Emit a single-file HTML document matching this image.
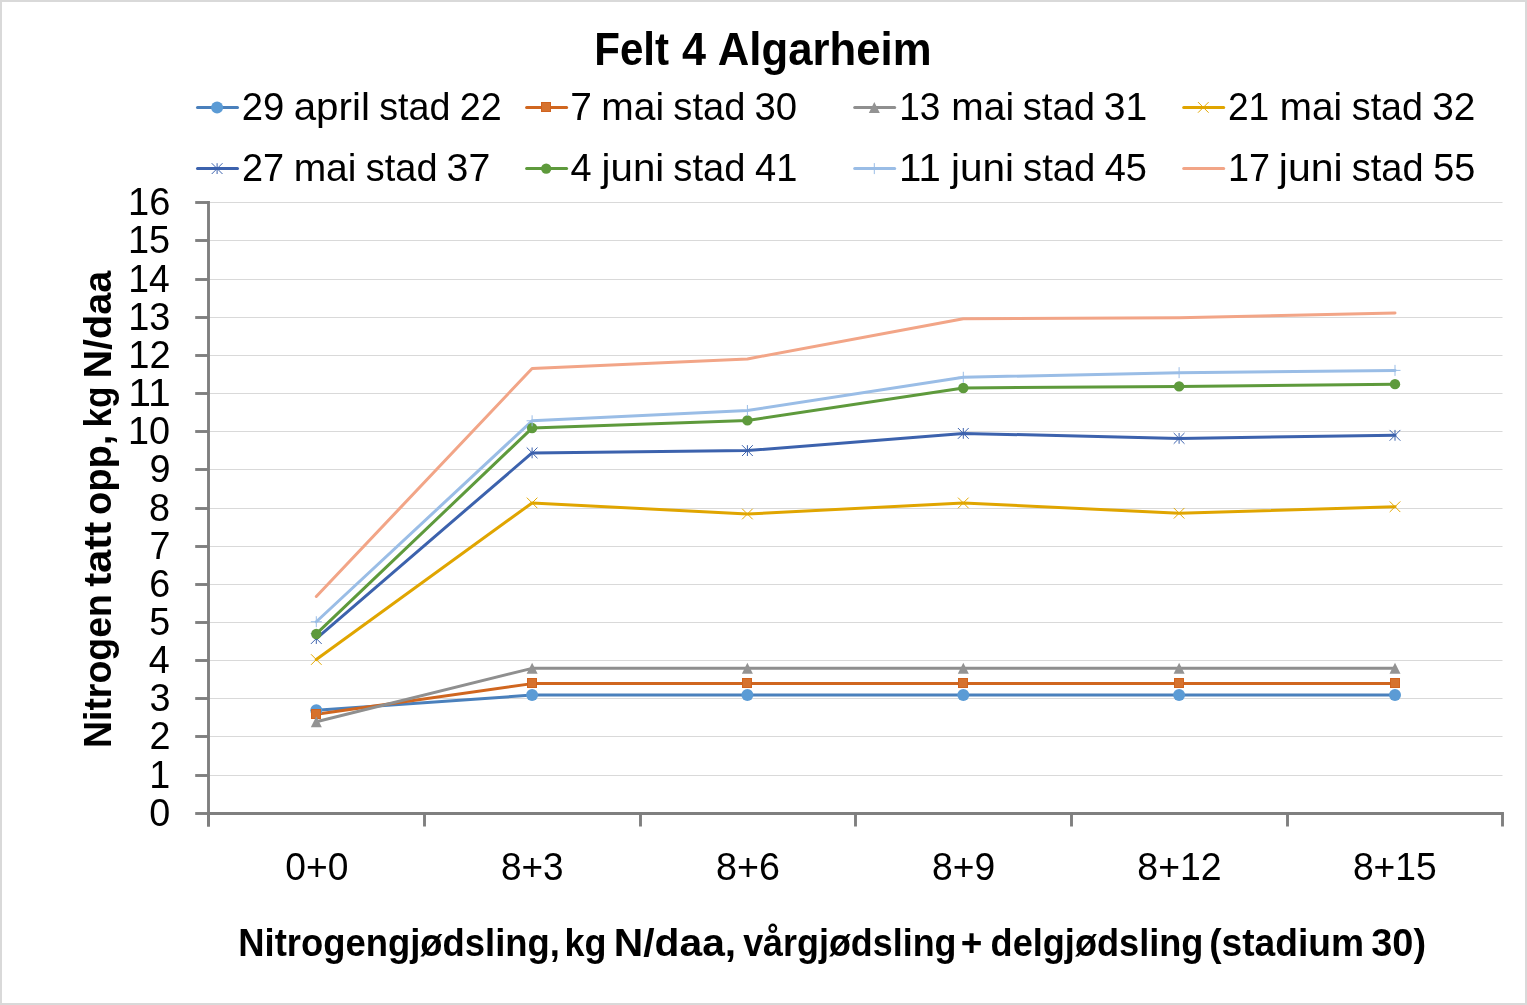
<!DOCTYPE html>
<html><head><meta charset="utf-8"><style>
html,body{margin:0;padding:0;background:#fff;width:1527px;height:1005px;overflow:hidden}
svg{display:block;will-change:transform}
text{font-family:"Liberation Sans",sans-serif}
</style></head><body>
<svg width="1527" height="1005" viewBox="0 0 1527 1005">
<rect x="1" y="1" width="1525" height="1003" fill="none" stroke="#d9d9d9" stroke-width="2"/>
<line x1="208.5" y1="775.50" x2="1502.5" y2="775.50" stroke="#d9d9d9" stroke-width="1.1"/>
<line x1="208.5" y1="736.50" x2="1502.5" y2="736.50" stroke="#d9d9d9" stroke-width="1.1"/>
<line x1="208.5" y1="698.50" x2="1502.5" y2="698.50" stroke="#d9d9d9" stroke-width="1.1"/>
<line x1="208.5" y1="660.50" x2="1502.5" y2="660.50" stroke="#d9d9d9" stroke-width="1.1"/>
<line x1="208.5" y1="622.50" x2="1502.5" y2="622.50" stroke="#d9d9d9" stroke-width="1.1"/>
<line x1="208.5" y1="584.50" x2="1502.5" y2="584.50" stroke="#d9d9d9" stroke-width="1.1"/>
<line x1="208.5" y1="546.50" x2="1502.5" y2="546.50" stroke="#d9d9d9" stroke-width="1.1"/>
<line x1="208.5" y1="508.50" x2="1502.5" y2="508.50" stroke="#d9d9d9" stroke-width="1.1"/>
<line x1="208.5" y1="469.50" x2="1502.5" y2="469.50" stroke="#d9d9d9" stroke-width="1.1"/>
<line x1="208.5" y1="431.50" x2="1502.5" y2="431.50" stroke="#d9d9d9" stroke-width="1.1"/>
<line x1="208.5" y1="393.50" x2="1502.5" y2="393.50" stroke="#d9d9d9" stroke-width="1.1"/>
<line x1="208.5" y1="355.50" x2="1502.5" y2="355.50" stroke="#d9d9d9" stroke-width="1.1"/>
<line x1="208.5" y1="317.50" x2="1502.5" y2="317.50" stroke="#d9d9d9" stroke-width="1.1"/>
<line x1="208.5" y1="279.50" x2="1502.5" y2="279.50" stroke="#d9d9d9" stroke-width="1.1"/>
<line x1="208.5" y1="240.50" x2="1502.5" y2="240.50" stroke="#d9d9d9" stroke-width="1.1"/>
<line x1="208.5" y1="202.50" x2="1502.5" y2="202.50" stroke="#d9d9d9" stroke-width="1.1"/>
<line x1="208.5" y1="201.05" x2="208.5" y2="826.6" stroke="#7f7f7f" stroke-width="2.9"/>
<line x1="195.2" y1="813.50" x2="208.5" y2="813.50" stroke="#7f7f7f" stroke-width="2.9"/>
<line x1="195.2" y1="775.50" x2="208.5" y2="775.50" stroke="#7f7f7f" stroke-width="2.9"/>
<line x1="195.2" y1="736.50" x2="208.5" y2="736.50" stroke="#7f7f7f" stroke-width="2.9"/>
<line x1="195.2" y1="698.50" x2="208.5" y2="698.50" stroke="#7f7f7f" stroke-width="2.9"/>
<line x1="195.2" y1="660.50" x2="208.5" y2="660.50" stroke="#7f7f7f" stroke-width="2.9"/>
<line x1="195.2" y1="622.50" x2="208.5" y2="622.50" stroke="#7f7f7f" stroke-width="2.9"/>
<line x1="195.2" y1="584.50" x2="208.5" y2="584.50" stroke="#7f7f7f" stroke-width="2.9"/>
<line x1="195.2" y1="546.50" x2="208.5" y2="546.50" stroke="#7f7f7f" stroke-width="2.9"/>
<line x1="195.2" y1="508.50" x2="208.5" y2="508.50" stroke="#7f7f7f" stroke-width="2.9"/>
<line x1="195.2" y1="469.50" x2="208.5" y2="469.50" stroke="#7f7f7f" stroke-width="2.9"/>
<line x1="195.2" y1="431.50" x2="208.5" y2="431.50" stroke="#7f7f7f" stroke-width="2.9"/>
<line x1="195.2" y1="393.50" x2="208.5" y2="393.50" stroke="#7f7f7f" stroke-width="2.9"/>
<line x1="195.2" y1="355.50" x2="208.5" y2="355.50" stroke="#7f7f7f" stroke-width="2.9"/>
<line x1="195.2" y1="317.50" x2="208.5" y2="317.50" stroke="#7f7f7f" stroke-width="2.9"/>
<line x1="195.2" y1="279.50" x2="208.5" y2="279.50" stroke="#7f7f7f" stroke-width="2.9"/>
<line x1="195.2" y1="240.50" x2="208.5" y2="240.50" stroke="#7f7f7f" stroke-width="2.9"/>
<line x1="195.2" y1="202.50" x2="208.5" y2="202.50" stroke="#7f7f7f" stroke-width="2.9"/>
<line x1="208.5" y1="813.5" x2="1503.95" y2="813.5" stroke="#7f7f7f" stroke-width="2.9"/>
<line x1="208.50" y1="813.5" x2="208.50" y2="826.5" stroke="#7f7f7f" stroke-width="2.9"/>
<line x1="424.50" y1="813.5" x2="424.50" y2="826.5" stroke="#7f7f7f" stroke-width="2.9"/>
<line x1="640.50" y1="813.5" x2="640.50" y2="826.5" stroke="#7f7f7f" stroke-width="2.9"/>
<line x1="855.50" y1="813.5" x2="855.50" y2="826.5" stroke="#7f7f7f" stroke-width="2.9"/>
<line x1="1071.50" y1="813.5" x2="1071.50" y2="826.5" stroke="#7f7f7f" stroke-width="2.9"/>
<line x1="1287.50" y1="813.5" x2="1287.50" y2="826.5" stroke="#7f7f7f" stroke-width="2.9"/>
<line x1="1502.50" y1="813.5" x2="1502.50" y2="826.5" stroke="#7f7f7f" stroke-width="2.9"/>
<polyline points="316.30,710.36 532.10,695.08 747.40,695.08 963.30,695.08 1179.10,695.08 1395.00,695.08" fill="none" stroke="#4a80bc" stroke-width="3" stroke-linejoin="round" stroke-linecap="round"/>
<polyline points="316.30,714.18 532.10,683.62 747.40,683.62 963.30,683.62 1179.10,683.62 1395.00,683.62" fill="none" stroke="#d0661f" stroke-width="3" stroke-linejoin="round" stroke-linecap="round"/>
<polyline points="316.30,721.82 532.10,668.34 747.40,668.34 963.30,668.34 1179.10,668.34 1395.00,668.34" fill="none" stroke="#8f8f8f" stroke-width="3" stroke-linejoin="round" stroke-linecap="round"/>
<polyline points="316.30,659.55 532.10,502.93 747.40,514.01 963.30,502.93 1179.10,513.25 1395.00,506.75" fill="none" stroke="#e0a500" stroke-width="3" stroke-linejoin="round" stroke-linecap="round"/>
<polyline points="316.30,638.54 532.10,452.89 747.40,450.60 963.30,433.41 1179.10,438.38 1395.00,435.32" fill="none" stroke="#3c62ad" stroke-width="3" stroke-linejoin="round" stroke-linecap="round"/>
<polyline points="316.30,633.96 532.10,428.06 747.40,420.42 963.30,387.95 1179.10,386.42 1395.00,384.13" fill="none" stroke="#5e9a3c" stroke-width="3" stroke-linejoin="round" stroke-linecap="round"/>
<polyline points="316.30,621.74 532.10,420.80 747.40,410.49 963.30,377.26 1179.10,372.67 1395.00,370.38" fill="none" stroke="#9abde6" stroke-width="3" stroke-linejoin="round" stroke-linecap="round"/>
<polyline points="316.30,596.52 532.10,368.47 747.40,358.92 963.30,318.81 1179.10,317.66 1395.00,313.08" fill="none" stroke="#f2a587" stroke-width="3" stroke-linejoin="round" stroke-linecap="round"/>
<circle cx="316.30" cy="710.36" r="6" fill="#5b9bd5"/>
<circle cx="532.10" cy="695.08" r="6" fill="#5b9bd5"/>
<circle cx="747.40" cy="695.08" r="6" fill="#5b9bd5"/>
<circle cx="963.30" cy="695.08" r="6" fill="#5b9bd5"/>
<circle cx="1179.10" cy="695.08" r="6" fill="#5b9bd5"/>
<circle cx="1395.00" cy="695.08" r="6" fill="#5b9bd5"/>
<rect x="311.50" y="709.50" width="9" height="9" fill="#d6722e" stroke="#d0631f" stroke-width="1"/>
<rect x="527.50" y="678.50" width="9" height="9" fill="#d6722e" stroke="#d0631f" stroke-width="1"/>
<rect x="742.50" y="678.50" width="9" height="9" fill="#d6722e" stroke="#d0631f" stroke-width="1"/>
<rect x="958.50" y="678.50" width="9" height="9" fill="#d6722e" stroke="#d0631f" stroke-width="1"/>
<rect x="1174.50" y="678.50" width="9" height="9" fill="#d6722e" stroke="#d0631f" stroke-width="1"/>
<rect x="1390.50" y="678.50" width="9" height="9" fill="#d6722e" stroke="#d0631f" stroke-width="1"/>
<path d="M316.30 716.32L321.80 727.32L310.80 727.32Z" fill="#939393"/>
<path d="M532.10 662.84L537.60 673.84L526.60 673.84Z" fill="#939393"/>
<path d="M747.40 662.84L752.90 673.84L741.90 673.84Z" fill="#939393"/>
<path d="M963.30 662.84L968.80 673.84L957.80 673.84Z" fill="#939393"/>
<path d="M1179.10 662.84L1184.60 673.84L1173.60 673.84Z" fill="#939393"/>
<path d="M1395.00 662.84L1400.50 673.84L1389.50 673.84Z" fill="#939393"/>
<path d="M311.00 654.25L321.60 664.85M321.60 654.25L311.00 664.85" stroke="#e3a800" stroke-width="1.0" fill="none"/>
<path d="M526.80 497.63L537.40 508.23M537.40 497.63L526.80 508.23" stroke="#e3a800" stroke-width="1.0" fill="none"/>
<path d="M742.10 508.71L752.70 519.31M752.70 508.71L742.10 519.31" stroke="#e3a800" stroke-width="1.0" fill="none"/>
<path d="M958.00 497.63L968.60 508.23M968.60 497.63L958.00 508.23" stroke="#e3a800" stroke-width="1.0" fill="none"/>
<path d="M1173.80 507.95L1184.40 518.55M1184.40 507.95L1173.80 518.55" stroke="#e3a800" stroke-width="1.0" fill="none"/>
<path d="M1389.70 501.45L1400.30 512.05M1400.30 501.45L1389.70 512.05" stroke="#e3a800" stroke-width="1.0" fill="none"/>
<path d="M310.90 633.14L321.70 643.94M321.70 633.14L310.90 643.94M316.30 633.14L316.30 643.94" stroke="#3c62ad" stroke-width="1.0" fill="none"/>
<path d="M526.70 447.49L537.50 458.29M537.50 447.49L526.70 458.29M532.10 447.49L532.10 458.29" stroke="#3c62ad" stroke-width="1.0" fill="none"/>
<path d="M742.00 445.20L752.80 456.00M752.80 445.20L742.00 456.00M747.40 445.20L747.40 456.00" stroke="#3c62ad" stroke-width="1.0" fill="none"/>
<path d="M957.90 428.01L968.70 438.81M968.70 428.01L957.90 438.81M963.30 428.01L963.30 438.81" stroke="#3c62ad" stroke-width="1.0" fill="none"/>
<path d="M1173.70 432.98L1184.50 443.78M1184.50 432.98L1173.70 443.78M1179.10 432.98L1179.10 443.78" stroke="#3c62ad" stroke-width="1.0" fill="none"/>
<path d="M1389.60 429.92L1400.40 440.72M1400.40 429.92L1389.60 440.72M1395.00 429.92L1395.00 440.72" stroke="#3c62ad" stroke-width="1.0" fill="none"/>
<circle cx="316.30" cy="633.96" r="5.2" fill="#5e9a3c"/>
<circle cx="532.10" cy="428.06" r="5.2" fill="#5e9a3c"/>
<circle cx="747.40" cy="420.42" r="5.2" fill="#5e9a3c"/>
<circle cx="963.30" cy="387.95" r="5.2" fill="#5e9a3c"/>
<circle cx="1179.10" cy="386.42" r="5.2" fill="#5e9a3c"/>
<circle cx="1395.00" cy="384.13" r="5.2" fill="#5e9a3c"/>
<path d="M310.80 621.74L321.80 621.74M316.30 616.24L316.30 627.24" stroke="#9abde6" stroke-width="1.0" fill="none"/>
<path d="M526.60 420.80L537.60 420.80M532.10 415.30L532.10 426.30" stroke="#9abde6" stroke-width="1.0" fill="none"/>
<path d="M741.90 410.49L752.90 410.49M747.40 404.99L747.40 415.99" stroke="#9abde6" stroke-width="1.0" fill="none"/>
<path d="M957.80 377.26L968.80 377.26M963.30 371.76L963.30 382.76" stroke="#9abde6" stroke-width="1.0" fill="none"/>
<path d="M1173.60 372.67L1184.60 372.67M1179.10 367.17L1179.10 378.17" stroke="#9abde6" stroke-width="1.0" fill="none"/>
<path d="M1389.50 370.38L1400.50 370.38M1395.00 364.88L1395.00 375.88" stroke="#9abde6" stroke-width="1.0" fill="none"/>






<line x1="197.5" y1="107.4" x2="237.5" y2="107.4" stroke="#4a80bc" stroke-width="3" stroke-linecap="round"/>
<circle cx="217.10" cy="107.40" r="6" fill="#5b9bd5"/>
<line x1="526.6" y1="107.4" x2="566.6" y2="107.4" stroke="#d0661f" stroke-width="3" stroke-linecap="round"/>
<rect x="541.50" y="102.50" width="9" height="9" fill="#d6722e" stroke="#d0631f" stroke-width="1"/>
<line x1="854.7" y1="107.4" x2="894.7" y2="107.4" stroke="#8f8f8f" stroke-width="3" stroke-linecap="round"/>
<path d="M874.30 101.90L879.80 112.90L868.80 112.90Z" fill="#939393"/>
<line x1="1183.7" y1="107.4" x2="1223.7" y2="107.4" stroke="#e0a500" stroke-width="3" stroke-linecap="round"/>
<path d="M1198.00 102.10L1208.60 112.70M1208.60 102.10L1198.00 112.70" stroke="#e3a800" stroke-width="1.0" fill="none"/>
<line x1="197.5" y1="168.6" x2="237.5" y2="168.6" stroke="#3c62ad" stroke-width="3" stroke-linecap="round"/>
<path d="M211.70 163.20L222.50 174.00M222.50 163.20L211.70 174.00M217.10 163.20L217.10 174.00" stroke="#3c62ad" stroke-width="1.0" fill="none"/>
<line x1="526.6" y1="168.6" x2="566.6" y2="168.6" stroke="#5e9a3c" stroke-width="3" stroke-linecap="round"/>
<circle cx="546.20" cy="168.60" r="5.2" fill="#5e9a3c"/>
<line x1="854.7" y1="168.6" x2="894.7" y2="168.6" stroke="#9abde6" stroke-width="3" stroke-linecap="round"/>
<path d="M868.80 168.60L879.80 168.60M874.30 163.10L874.30 174.10" stroke="#9abde6" stroke-width="1.0" fill="none"/>
<line x1="1183.7" y1="168.6" x2="1223.7" y2="168.6" stroke="#f2a587" stroke-width="3" stroke-linecap="round"/>

<g font-family="Liberation Sans, sans-serif" fill="#000">
<text x="241.80" y="119.70" font-size="39" textLength="42.56" lengthAdjust="spacingAndGlyphs">29</text>
<text x="293.68" y="119.70" font-size="39" textLength="76.23" lengthAdjust="spacingAndGlyphs">april</text>
<text x="379.20" y="119.70" font-size="39" textLength="71.21" lengthAdjust="spacingAndGlyphs">stad</text>
<text x="459.81" y="119.70" font-size="39" textLength="41.92" lengthAdjust="spacingAndGlyphs">22</text>
<text x="570.16" y="119.70" font-size="39" textLength="21.69" lengthAdjust="spacingAndGlyphs">7</text>
<text x="601.31" y="119.70" font-size="39" textLength="62.79" lengthAdjust="spacingAndGlyphs">mai</text>
<text x="673.34" y="119.70" font-size="39" textLength="72.03" lengthAdjust="spacingAndGlyphs">stad</text>
<text x="754.43" y="119.70" font-size="39" textLength="42.57" lengthAdjust="spacingAndGlyphs">30</text>
<text x="899.29" y="119.70" font-size="39" textLength="41.19" lengthAdjust="spacingAndGlyphs">13</text>
<text x="951.35" y="119.70" font-size="39" textLength="62.71" lengthAdjust="spacingAndGlyphs">mai</text>
<text x="1022.71" y="119.70" font-size="39" textLength="72.24" lengthAdjust="spacingAndGlyphs">stad</text>
<text x="1103.82" y="119.70" font-size="39" textLength="43.52" lengthAdjust="spacingAndGlyphs">31</text>
<text x="1227.91" y="119.70" font-size="39" textLength="41.33" lengthAdjust="spacingAndGlyphs">21</text>
<text x="1279.77" y="119.70" font-size="39" textLength="62.20" lengthAdjust="spacingAndGlyphs">mai</text>
<text x="1351.82" y="119.70" font-size="39" textLength="71.23" lengthAdjust="spacingAndGlyphs">stad</text>
<text x="1432.18" y="119.70" font-size="39" textLength="43.18" lengthAdjust="spacingAndGlyphs">32</text>
<text x="241.89" y="180.70" font-size="39" textLength="42.18" lengthAdjust="spacingAndGlyphs">27</text>
<text x="293.64" y="180.70" font-size="39" textLength="62.82" lengthAdjust="spacingAndGlyphs">mai</text>
<text x="365.81" y="180.70" font-size="39" textLength="71.73" lengthAdjust="spacingAndGlyphs">stad</text>
<text x="446.58" y="180.70" font-size="39" textLength="43.74" lengthAdjust="spacingAndGlyphs">37</text>
<text x="570.53" y="180.70" font-size="39" textLength="21.11" lengthAdjust="spacingAndGlyphs">4</text>
<text x="601.61" y="180.70" font-size="39" textLength="62.64" lengthAdjust="spacingAndGlyphs">juni</text>
<text x="673.34" y="180.70" font-size="39" textLength="72.03" lengthAdjust="spacingAndGlyphs">stad</text>
<text x="755.00" y="180.70" font-size="39" textLength="42.35" lengthAdjust="spacingAndGlyphs">41</text>
<text x="899.13" y="180.70" font-size="39" textLength="41.70" lengthAdjust="spacingAndGlyphs">11</text>
<text x="950.99" y="180.70" font-size="39" textLength="63.07" lengthAdjust="spacingAndGlyphs">juni</text>
<text x="1023.09" y="180.70" font-size="39" textLength="72.30" lengthAdjust="spacingAndGlyphs">stad</text>
<text x="1104.73" y="180.70" font-size="39" textLength="42.25" lengthAdjust="spacingAndGlyphs">45</text>
<text x="1227.91" y="180.70" font-size="39" textLength="42.13" lengthAdjust="spacingAndGlyphs">17</text>
<text x="1278.80" y="180.70" font-size="39" textLength="63.80" lengthAdjust="spacingAndGlyphs">juni</text>
<text x="1351.81" y="180.70" font-size="39" textLength="71.73" lengthAdjust="spacingAndGlyphs">stad</text>
<text x="1433.30" y="180.70" font-size="39" textLength="42.09" lengthAdjust="spacingAndGlyphs">55</text>
<text x="594.24" y="64.80" font-size="46" font-weight="bold" textLength="74.85" lengthAdjust="spacingAndGlyphs">Felt</text>
<text x="682.09" y="64.80" font-size="46" font-weight="bold" textLength="23.99" lengthAdjust="spacingAndGlyphs">4</text>
<text x="717.72" y="64.80" font-size="46" font-weight="bold" textLength="213.84" lengthAdjust="spacingAndGlyphs">Algarheim</text>
<text x="238.29" y="955.80" font-size="39" font-weight="bold" textLength="321.57" lengthAdjust="spacingAndGlyphs">Nitrogengjødsling,</text>
<text x="564.50" y="955.80" font-size="39" font-weight="bold" textLength="42.02" lengthAdjust="spacingAndGlyphs">kg</text>
<text x="613.89" y="955.80" font-size="39" font-weight="bold" textLength="122.27" lengthAdjust="spacingAndGlyphs">N/daa,</text>
<text x="743.15" y="955.80" font-size="39" font-weight="bold" textLength="213.36" lengthAdjust="spacingAndGlyphs">vårgjødsling</text>
<text x="960.70" y="955.80" font-size="39" font-weight="bold" textLength="21.61" lengthAdjust="spacingAndGlyphs">+</text>
<text x="990.58" y="955.80" font-size="39" font-weight="bold" textLength="212.81" lengthAdjust="spacingAndGlyphs">delgjødsling</text>
<text x="1209.14" y="955.80" font-size="39" font-weight="bold" textLength="154.82" lengthAdjust="spacingAndGlyphs">(stadium</text>
<text x="1371.24" y="955.80" font-size="39" font-weight="bold" textLength="54.78" lengthAdjust="spacingAndGlyphs">30)</text>
<text transform="translate(111.00 748.05) rotate(-90)" font-size="39" font-weight="bold" textLength="153.91" lengthAdjust="spacingAndGlyphs">Nitrogen</text>
<text transform="translate(111.00 586.87) rotate(-90)" font-size="39" font-weight="bold" textLength="65.05" lengthAdjust="spacingAndGlyphs">tatt</text>
<text transform="translate(111.00 514.97) rotate(-90)" font-size="39" font-weight="bold" textLength="80.36" lengthAdjust="spacingAndGlyphs">opp,</text>
<text transform="translate(111.00 427.53) rotate(-90)" font-size="39" font-weight="bold" textLength="41.03" lengthAdjust="spacingAndGlyphs">kg</text>
<text transform="translate(111.00 378.48) rotate(-90)" font-size="39" font-weight="bold" textLength="107.78" lengthAdjust="spacingAndGlyphs">N/daa</text>
<text x="285.26" y="880.00" font-size="39" textLength="63.07" lengthAdjust="spacingAndGlyphs">0+0</text>
<text x="500.99" y="880.00" font-size="39" textLength="62.59" lengthAdjust="spacingAndGlyphs">8+3</text>
<text x="715.99" y="880.00" font-size="39" textLength="63.85" lengthAdjust="spacingAndGlyphs">8+6</text>
<text x="932.10" y="880.00" font-size="39" textLength="63.09" lengthAdjust="spacingAndGlyphs">8+9</text>
<text x="1137.37" y="880.00" font-size="39" textLength="84.25" lengthAdjust="spacingAndGlyphs">8+12</text>
<text x="1352.90" y="880.00" font-size="39" textLength="83.93" lengthAdjust="spacingAndGlyphs">8+15</text>
<text x="149.14" y="825.80" font-size="39" textLength="21.00" lengthAdjust="spacingAndGlyphs">0</text>
<text x="149.36" y="787.80" font-size="39" textLength="21.00" lengthAdjust="spacingAndGlyphs">1</text>
<text x="149.45" y="748.80" font-size="39" textLength="21.00" lengthAdjust="spacingAndGlyphs">2</text>
<text x="149.38" y="710.80" font-size="39" textLength="21.00" lengthAdjust="spacingAndGlyphs">3</text>
<text x="148.72" y="672.80" font-size="39" textLength="21.00" lengthAdjust="spacingAndGlyphs">4</text>
<text x="149.33" y="634.80" font-size="39" textLength="21.00" lengthAdjust="spacingAndGlyphs">5</text>
<text x="149.31" y="596.80" font-size="39" textLength="21.00" lengthAdjust="spacingAndGlyphs">6</text>
<text x="149.45" y="558.80" font-size="39" textLength="21.00" lengthAdjust="spacingAndGlyphs">7</text>
<text x="149.03" y="520.80" font-size="39" textLength="21.00" lengthAdjust="spacingAndGlyphs">8</text>
<text x="149.51" y="481.80" font-size="39" textLength="21.00" lengthAdjust="spacingAndGlyphs">9</text>
<text x="128.06" y="443.80" font-size="39" textLength="42.07" lengthAdjust="spacingAndGlyphs">10</text>
<text x="128.16" y="405.80" font-size="39" textLength="42.52" lengthAdjust="spacingAndGlyphs">11</text>
<text x="128.22" y="367.80" font-size="39" textLength="42.45" lengthAdjust="spacingAndGlyphs">12</text>
<text x="128.17" y="329.80" font-size="39" textLength="42.22" lengthAdjust="spacingAndGlyphs">13</text>
<text x="128.19" y="291.80" font-size="39" textLength="41.47" lengthAdjust="spacingAndGlyphs">14</text>
<text x="128.00" y="252.80" font-size="39" textLength="42.19" lengthAdjust="spacingAndGlyphs">15</text>
<text x="127.98" y="214.80" font-size="39" textLength="42.39" lengthAdjust="spacingAndGlyphs">16</text>
</g>
</svg>
</body></html>
